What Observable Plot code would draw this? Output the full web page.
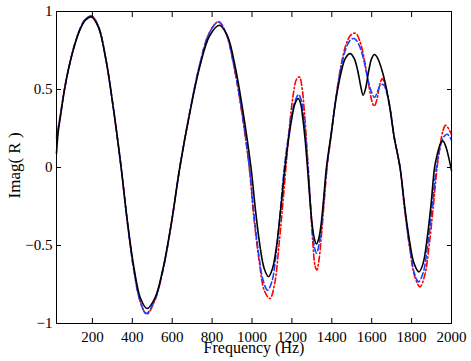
<!DOCTYPE html>
<html>
<head>
<meta charset="utf-8">
<script src="https://cdn.jsdelivr.net/npm/d3@7"></script>
<script src="https://cdn.jsdelivr.net/npm/@observablehq/plot@0.6"></script>
<style>
  html, body { margin: 0; padding: 0; background: white; }
</style>
</head>
<body>
<div id="chart"></div>
<script>
const xTicks = [200, 400, 600, 800, 1000, 1200, 1400, 1600, 1800, 2000];
const yTicks = [-1, -0.5, 0, 0.5, 1];

const blackSeries = [[20,0.09],[28,0.22],[40,0.33],[60,0.50],[80,0.63],[110,0.78],[140,0.89],[165,0.945],[195,0.965],[230,0.90],[268,0.69],[305,0.38],[344,0],[376,-0.35],[408,-0.64],[440,-0.835],[473,-0.904],[514,-0.835],[555,-0.64],[597,-0.346],[638,0],[688,0.349],[738,0.645],[787,0.843],[837,0.912],[877,0.843],[916,0.645],[956,0.349],[995,0],[1017,-0.268],[1039,-0.495],[1061,-0.647],[1083,-0.70],[1103,-0.647],[1124,-0.495],[1144,-0.268],[1165,0],[1182,0.169],[1199,0.312],[1215,0.408],[1232,0.442],[1244,0.408],[1255,0.312],[1267,0.169],[1278,0],[1289,-0.188],[1300,-0.346],[1312,-0.453],[1323,-0.49],[1335,-0.453],[1348,-0.346],[1360,-0.188],[1373,0],[1395,0.2],[1420,0.43],[1445,0.60],[1468,0.70],[1492,0.73],[1512,0.70],[1530,0.62],[1545,0.52],[1557,0.463],[1570,0.51],[1585,0.62],[1600,0.70],[1614,0.724],[1630,0.70],[1650,0.63],[1670,0.53],[1690,0.39],[1712,0.2],[1742,0],[1766,-0.256],[1790,-0.473],[1813,-0.618],[1837,-0.669],[1857,-0.618],[1876,-0.473],[1896,-0.256],[1915,0],[1926,0.07],[1936,0.12],[1946,0.158],[1957,0.17],[1970,0.14],[1985,0.07],[2000,-0.02]];

const blueSeries = [[20,0.19],[28,0.25],[40,0.34],[60,0.50],[80,0.63],[110,0.785],[140,0.895],[165,0.95],[197,0.97],[230,0.905],[268,0.69],[305,0.38],[344,0],[376,-0.36],[408,-0.66],[440,-0.86],[470,-0.935],[512,-0.85],[555,-0.65],[597,-0.35],[638,0],[688,0.355],[738,0.66],[785,0.86],[832,0.933],[870,0.86],[908,0.66],[948,0.37],[987,0],[1010,-0.30],[1033,-0.55],[1055,-0.72],[1078,-0.787],[1100,-0.73],[1121,-0.55],[1141,-0.29],[1162,0],[1180,0.18],[1198,0.33],[1217,0.43],[1234,0.468],[1247,0.43],[1259,0.33],[1270,0.18],[1281,0],[1292,-0.21],[1302,-0.39],[1313,-0.51],[1323,-0.55],[1335,-0.50],[1348,-0.38],[1361,-0.2],[1375,0],[1396,0.2],[1420,0.44],[1445,0.63],[1470,0.76],[1492,0.815],[1512,0.827],[1535,0.79],[1558,0.70],[1580,0.57],[1600,0.48],[1615,0.449],[1630,0.49],[1645,0.53],[1660,0.53],[1675,0.48],[1692,0.38],[1712,0.2],[1742,0],[1766,-0.27],[1790,-0.5],[1812,-0.67],[1835,-0.733],[1858,-0.675],[1880,-0.5],[1902,-0.26],[1924,0],[1940,0.11],[1958,0.19],[1977,0.213],[1990,0.2],[2000,0.175]];

const redSeries = [[20,0.21],[28,0.25],[40,0.34],[60,0.50],[80,0.63],[110,0.785],[140,0.895],[165,0.95],[197,0.97],[230,0.905],[268,0.69],[305,0.38],[344,0],[376,-0.36],[408,-0.66],[440,-0.86],[472,-0.94],[514,-0.85],[555,-0.65],[597,-0.35],[638,0],[688,0.355],[738,0.66],[785,0.86],[832,0.935],[870,0.86],[908,0.66],[948,0.36],[986,0],[1010,-0.33],[1036,-0.60],[1062,-0.79],[1090,-0.84],[1114,-0.74],[1135,-0.50],[1154,-0.24],[1172,0.03],[1190,0.29],[1207,0.47],[1223,0.565],[1238,0.58],[1251,0.51],[1263,0.35],[1274,0.15],[1285,-0.07],[1296,-0.31],[1306,-0.50],[1316,-0.63],[1325,-0.658],[1336,-0.59],[1349,-0.42],[1363,-0.2],[1378,0.02],[1398,0.22],[1422,0.46],[1447,0.66],[1472,0.79],[1496,0.85],[1520,0.86],[1543,0.80],[1565,0.68],[1585,0.53],[1600,0.43],[1612,0.393],[1625,0.43],[1640,0.53],[1653,0.57],[1667,0.53],[1680,0.46],[1695,0.36],[1712,0.2],[1742,0],[1766,-0.28],[1792,-0.53],[1816,-0.70],[1842,-0.765],[1866,-0.69],[1888,-0.5],[1908,-0.26],[1928,0],[1944,0.15],[1958,0.24],[1970,0.27],[1985,0.25],[2000,0.21]];

const xLabel = "Frequency (Hz)";
const yLabel = "Imag( R )";

const fmtY = d => d === 0 ? "0" : (d < 0 ? "\u2212" + Math.abs(d) : String(d));
const blank = () => "";
const fx = d => d[0], fy = d => d[1];

const chart = Plot.plot({
  width: 471,
  height: 361,
  marginLeft: 56,
  marginRight: 20,
  marginTop: 11,
  marginBottom: 38,
  style: { fontFamily: "Liberation Serif", fontSize: "15px", background: "white", color: "black" },
  x: { domain: [20, 2000] },
  y: { domain: [-1, 1] },
  marks: [
    Plot.line(redSeries, { x: fx, y: fy, stroke: "#ff0000", strokeWidth: 1.6, strokeDasharray: "6,2.5,1.5,2.5", curve: "catmull-rom" }),
    Plot.line(blueSeries, { x: fx, y: fy, stroke: "#1f3fff", strokeWidth: 1.6, strokeDasharray: "6,3", curve: "catmull-rom" }),
    Plot.line(blackSeries, { x: fx, y: fy, stroke: "black", strokeWidth: 1.6, curve: "catmull-rom" }),
    Plot.frame({ stroke: "black", strokeWidth: 1 }),
    Plot.axisX({ anchor: "bottom", ticks: xTicks, tickSize: 5, dy: -5, tickFormat: blank, label: null }),
    Plot.axisX({ anchor: "top", ticks: xTicks, tickSize: 5, dy: 5, tickFormat: blank, label: null }),
    Plot.axisY({ anchor: "left", ticks: yTicks, tickSize: 5, dx: 5, tickFormat: blank, label: null }),
    Plot.axisY({ anchor: "right", ticks: yTicks, tickSize: 5, dx: -5, tickFormat: blank, label: null }),
    Plot.axisX({ anchor: "bottom", ticks: xTicks, tickSize: 0, tickPadding: 8, tickFormat: d => String(d), label: null, fontSize: 15 }),
    Plot.axisY({ anchor: "left", ticks: yTicks, tickSize: 0, tickPadding: 4, tickFormat: fmtY, label: null, fontSize: 15 }),
    Plot.text([xLabel], { text: d => d, frameAnchor: "bottom", lineAnchor: "middle", textAnchor: "middle", dy: 24, fontSize: 16 }),
    Plot.text([yLabel], { text: d => d, frameAnchor: "left", lineAnchor: "middle", textAnchor: "start", dx: -42, dy: 31, rotate: -90, fontSize: 17 })
  ]
});
document.getElementById("chart").appendChild(chart);
</script>
</body>
</html>
